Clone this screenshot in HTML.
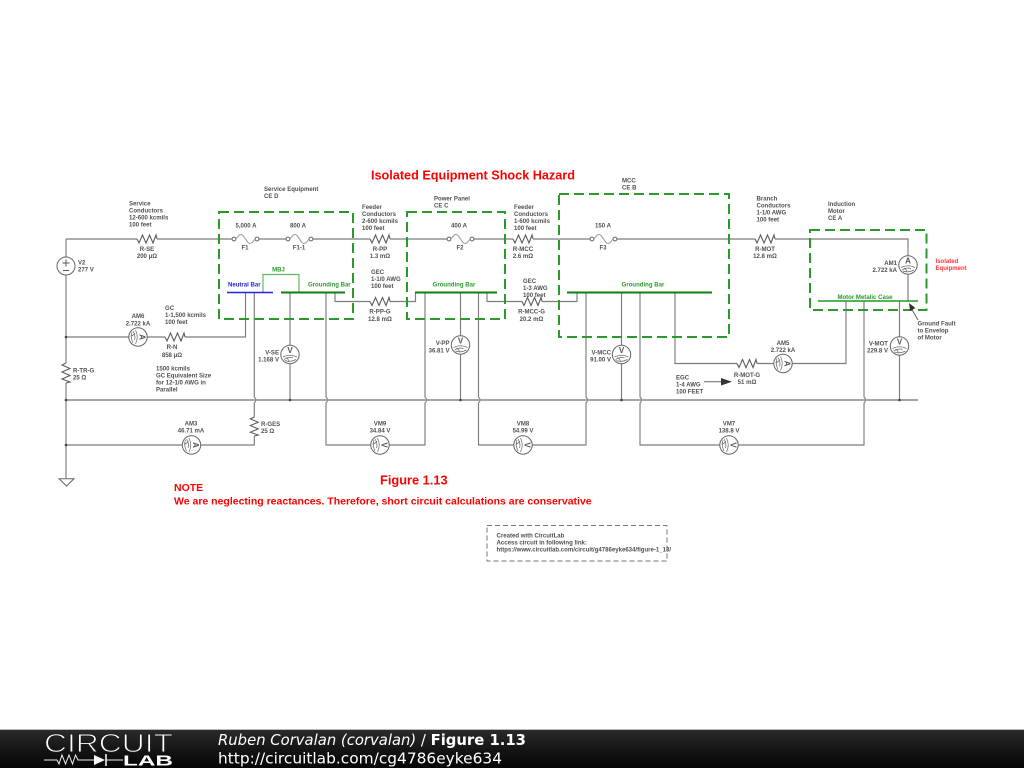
<!DOCTYPE html>
<html><head><meta charset="utf-8"><title>Figure 1.13</title>
<style>
html,body{margin:0;padding:0;background:#fff;width:1024px;height:768px;overflow:hidden}
svg{position:absolute;left:0;top:0;display:block}
text{font-family:"Liberation Sans",sans-serif}
.diagram{filter:blur(.3px)}
.l{font-size:6.05px;font-weight:bold;fill:#505050}
.c{text-anchor:middle}
.r{text-anchor:end}
.g{fill:#2a9a2a}
.w{fill:none;stroke:#7c7c7c;stroke-width:1.15}
.box{fill:none;stroke:#2a9a2a;stroke-width:2;stroke-dasharray:10 5}
.m{font-size:8px;font-weight:bold;fill:#555;text-anchor:middle}
.red{fill:#f00;font-weight:bold}
</style></head><body>
<svg width="1024" height="768" viewBox="0 0 1024 768" xmlns="http://www.w3.org/2000/svg">
<defs>
<linearGradient id="bg" x1="0" y1="0" x2="0" y2="1"><stop offset="0" stop-color="#2c2c2c"/><stop offset="0.5" stop-color="#161616"/><stop offset="1" stop-color="#050505"/></linearGradient>
<path id="res" d="M0 0L2 4L5.5 -4L9 4L12.5 -4L16 4L19 -4L20 0" fill="none" stroke="#5c5c5c" stroke-width="1.1"/>
<g id="fuse" fill="none" stroke="#888" stroke-width="1"><circle cx="0" cy="0" r="1.9" fill="#fff" stroke="#666"/><circle cx="23" cy="0" r="1.9" fill="#fff" stroke="#666"/><path d="M2 0C6 -6 8 -6 11.5 0S17 6 21 0" stroke="#999"/></g>
<g id="dial" fill="none" stroke="#666" stroke-width=".7"><circle r="9.2" fill="#fff" stroke="#666" stroke-width="1"/><path d="M-7 2.5Q0 -1 7 2.5M-6 5Q-1 2 3 3.5M-4 3Q-1 5 -1 7.5M-5 6Q0 8 6 5"/></g>
</defs>

<g class="diagram">
<!-- wires -->
<g class="w">
<path d="M66 239H137M157 239H234M257 239H288M311 239H370M390 239H449M472 239H513M533 239H592M615 239H755M775 239H908V256M908 274V301"/>
<path d="M66 239V257M66 275V363M66 383V478"/>
<path d="M66 337H129M147 337H165M185 337H245.5V292.5"/>
<path d="M254.3 292.5V397Q257.5 400 254.3 403V417M254.3 436V445H201M182 445H66"/>
<path d="M290 292.5V345M290 364V400"/>
<path d="M326 292.5V397Q329.2 400 326 403V445H371M389 445H425V403Q428.2 400 425 397V292.5"/>
<path d="M460.5 292.5V336M460.5 354V400"/>
<path d="M478.5 292.5V397Q481.7 400 478.5 403V445H514M532 445H586V403Q589.2 400 586 397V292.5"/>
<path d="M621.5 292.5V345M621.5 364V400"/>
<path d="M640 292.5V397Q643.2 400 640 403V445H720M738 445H864V403Q867.2 400 864 397V301"/>
<path d="M899.5 301V337M899.5 355V400"/>
<path d="M335 292.5V301.5H370M390 301.5H415.5V292.5"/>
<path d="M487 292.5V301.5H522M542 301.5H577V292.5"/>
<path d="M675 292.5V363.5H737M757 363.5H774M792 363.5H846V301"/>
<path d="M263 292.5V274.5H299V292.5" stroke="#5cb85c"/>
</g>
<path d="M66 400H918" stroke="#999" stroke-width="1.7" fill="none"/>
<g fill="#444"><circle cx="66" cy="400" r="1.3"/><circle cx="66" cy="337" r="1.3"/><circle cx="66" cy="445" r="1.3"/><circle cx="290" cy="400" r="1.3"/><circle cx="460.5" cy="400" r="1.3"/><circle cx="621.5" cy="400" r="1.3"/><circle cx="899.5" cy="400" r="1.3"/></g>

<!-- ground -->
<path d="M59 478.7H74L66.5 486Z" fill="#fff" stroke="#666"/>

<!-- bars -->
<path d="M227 292.5H273" stroke="#2222ee" stroke-width="1.6"/>
<path d="M281 292.5H345M415 292.5H497M567 292.5H712" stroke="#0f7f0f" stroke-width="2"/>
<path d="M818 301H918" stroke="#1f9a1f" stroke-width="1.6"/>

<!-- dashed boxes -->
<rect class="box" x="219" y="212" width="134" height="107"/>
<rect class="box" x="407" y="212" width="98" height="107"/>
<rect class="box" x="559" y="194" width="170" height="143"/>
<rect class="box" x="810" y="230" width="116.500" height="80"/>
<rect x="487" y="525.500" width="180" height="35.500" fill="none" stroke="#777" stroke-dasharray="5 3"/>

<!-- resistors -->
<use href="#res" transform="translate(137 239)"/>
<use href="#res" transform="translate(370 239)"/>
<use href="#res" transform="translate(513 239)"/>
<use href="#res" transform="translate(755 239)"/>
<use href="#res" transform="translate(370 301.5)"/>
<use href="#res" transform="translate(522 301.5)"/>
<use href="#res" transform="translate(737 363.5)"/>
<use href="#res" transform="translate(165 337)"/>
<use href="#res" transform="translate(66 363) rotate(90)"/>
<use href="#res" transform="translate(254.3 417) rotate(90) scale(.95 1)"/>

<!-- fuses -->
<use href="#fuse" transform="translate(234 239)"/>
<use href="#fuse" transform="translate(288 239)"/>
<use href="#fuse" transform="translate(449 239)"/>
<use href="#fuse" transform="translate(592 239)"/>

<!-- source -->
<circle cx="66" cy="266" r="9" fill="#fff" stroke="#666"/>
<path d="M62.500 263H69.500M66 259.500V266.500M63 270.500H69" stroke="#555" fill="none"/>

<!-- meters -->
<g transform="translate(290 354.500)"><use href="#dial"/><text class="m" y="-1.500">V</text></g>
<g transform="translate(460.500 345)"><use href="#dial"/><text class="m" y="-1.500">V</text></g>
<g transform="translate(621.500 354.500)"><use href="#dial"/><text class="m" y="-1.500">V</text></g>
<g transform="translate(899.500 346)"><use href="#dial"/><text class="m" y="-1.500">V</text></g>
<g transform="translate(908 265)"><use href="#dial"/><text class="m" y="-1.500">A</text></g>
<g transform="translate(138 337) rotate(90)"><use href="#dial"/><text class="m" y="-1.500">A</text></g>
<g transform="translate(783 363.500) rotate(90)"><use href="#dial"/><text class="m" y="-1.500">A</text></g>
<g transform="translate(191.500 445) rotate(90)"><use href="#dial"/><text class="m" y="-1.500">A</text></g>
<g transform="translate(380 445) rotate(90)"><use href="#dial"/><text class="m" y="-1.500">V</text></g>
<g transform="translate(523 445) rotate(90)"><use href="#dial"/><text class="m" y="-1.500">V</text></g>
<g transform="translate(729 445) rotate(90)"><use href="#dial"/><text class="m" y="-1.500">V</text></g>

<!-- annotation arrows -->
<path d="M918 320L911 308" stroke="#666" fill="none"/>
<path d="M909 303L915.500 308L910 311Z" fill="#333"/>
<path d="M704 381.700H722" stroke="#666" fill="none"/>
<path d="M732 381.700L721 378V385.500Z" fill="#333"/>

<!-- labels -->
<g class="l">
<text x="129" y="205.500">Service</text><text x="129" y="212.500">Conductors</text><text x="129" y="219.500">12-600 kcmils</text><text x="129" y="226.500">100 feet</text>
<text class="c" x="147" y="251">R-SE</text><text class="c" x="147" y="258">200 μΩ</text>
<text x="264" y="191">Service Equipment</text><text x="264" y="198">CE D</text>
<text class="c" x="246" y="227.500">5,000 A</text><text class="c" x="298" y="227.500">800 A</text>
<text class="c" x="245" y="249.500">F1</text><text class="c" x="299" y="249.500">F1-1</text>
<text x="78" y="264.500">V2</text><text x="78" y="271.500">277 V</text>
<text class="c" x="138" y="318">AM6</text><text class="c" x="138" y="325.500">2.722 kA</text>
<text x="165" y="310">GC</text><text x="165" y="317">1-1,500 kcmils</text><text x="165" y="324">100 feet</text>
<text class="c" x="172" y="349">R-N</text><text class="c" x="172" y="357">858 μΩ</text>
<text x="156" y="370.500">1500 kcmils</text><text x="156" y="377.500">GC Equivalent Size</text><text x="156" y="384.500">for 12-1/0 AWG in</text><text x="156" y="391.500">Parallel</text>
<text x="73" y="372.500">R-TR-G</text><text x="73" y="379.500">25 Ω</text>
<text class="r" x="279" y="354.500">V-SE</text><text class="r" x="279" y="361.500">1.168 V</text>

<text x="362" y="209">Feeder</text><text x="362" y="216">Conductors</text><text x="362" y="223">2-600 kcmils</text><text x="362" y="230">100 feet</text>
<text class="c" x="380" y="251">R-PP</text><text class="c" x="380" y="258">1.3 mΩ</text>
<text x="371" y="274">GEC</text><text x="371" y="281">1-1/0 AWG</text><text x="371" y="288">100 feet</text>
<text class="c" x="380" y="313.500">R-PP-G</text><text class="c" x="380" y="321">12.8 mΩ</text>
<text x="434" y="200.500">Power Panel</text><text x="434" y="207.500">CE C</text>
<text class="c" x="459" y="227.500">400 A</text><text class="c" x="460" y="249.500">F2</text>
<text class="r" x="449.500" y="345">V-PP</text><text class="r" x="449.500" y="352.500">36.81 V</text>
<text x="514" y="209">Feeder</text><text x="514" y="216">Conductors</text><text x="514" y="223">1-600 kcmils</text><text x="514" y="230">100 feet</text>
<text class="c" x="523" y="251">R-MCC</text><text class="c" x="523" y="258">2.6 mΩ</text>
<text x="523" y="283">GEC</text><text x="523" y="290">1-3 AWG</text><text x="523" y="297">100 feet</text>
<text class="c" x="531.500" y="313.500">R-MCC-G</text><text class="c" x="531.500" y="321">20.2 mΩ</text>
<text x="622" y="182.500">MCC</text><text x="622" y="189.500">CE B</text>
<text class="c" x="603" y="227.500">150 A</text><text class="c" x="603" y="249.500">F3</text>
<text class="r" x="611" y="354.500">V-MCC</text><text class="r" x="611" y="361.500">91.00 V</text>
<text x="756.500" y="200.500">Branch</text><text x="756.500" y="207.500">Conductors</text><text x="756.500" y="214.500">1-1/0 AWG</text><text x="756.500" y="221.500">100 feet</text>
<text class="c" x="765" y="251">R-MOT</text><text class="c" x="765" y="258">12.8 mΩ</text>
<text x="828" y="206">Induction</text><text x="828" y="213">Motor</text><text x="828" y="220">CE A</text>
<text class="r" x="897" y="265">AM1</text><text class="r" x="897" y="272">2.722 kA</text>
<text x="917.500" y="325.500">Ground Fault</text><text x="917.500" y="332.500">to Envelop</text><text x="917.500" y="339.500">of Motor</text>
<text class="c" x="783" y="345">AM5</text><text class="c" x="783" y="352">2.722 kA</text>
<text class="c" x="747" y="377">R-MOT-G</text><text class="c" x="747" y="384">51 mΩ</text>
<text x="676" y="379.500">EGC</text><text x="676" y="386.500">1-4 AWG</text><text x="676" y="393.500">100 FEET</text>
<text class="r" x="888" y="345.500">V-MOT</text><text class="r" x="888" y="352.500">229.8 V</text>
<text class="c" x="191" y="425.500">AM3</text><text class="c" x="191" y="432.500">46.71 mA</text>
<text x="261" y="426">R-GES</text><text x="261" y="433">25 Ω</text>
<text class="c" x="380" y="425.500">VM9</text><text class="c" x="380" y="432.500">34.84 V</text>
<text class="c" x="523" y="425.500">VM8</text><text class="c" x="523" y="432.500">54.99 V</text>
<text class="c" x="729" y="425.500">VM7</text><text class="c" x="729" y="432.500">138.8 V</text>
<text x="496.500" y="537.500">Created with CircuitLab</text><text x="496.500" y="544.500">Access circuit in following link:</text><text x="496.500" y="551.500">https://www.circuitlab.com/circuit/g4786eyke634/figure-1_13/</text>
<text class="c g" x="278.500" y="271.500">MBJ</text>
<text x="228" y="286.500" style="fill:#2222ee">Neutral Bar</text>
<text class="g" x="308" y="286.500">Grounding Bar</text>
<text class="c g" x="454" y="286.500">Grounding Bar</text>
<text class="c g" x="643" y="286.500">Grounding Bar</text>
<text class="c g" x="865" y="299">Motor Metalic Case</text>
<text x="935.500" y="263" style="fill:#f33">Isolated</text><text x="935.500" y="270" style="fill:#f33">Equipment</text>
</g>

<text class="red" x="371" y="179.500" font-size="12.670">Isolated Equipment Shock Hazard</text>
<text class="red" x="380" y="484.500" font-size="12.800">Figure 1.13</text>
<text class="red" x="174" y="491" font-size="10.500">NOTE</text>
<text class="red" x="174" y="504.500" font-size="10.500">We are neglecting reactances. Therefore, short circuit calculations are conservative</text>
</g>

<!-- footer -->
<rect x="0" y="729" width="1024" height="39" fill="url(#bg)"/>
<rect x="0" y="729" width="1024" height="1" fill="#bbb"/>
<text x="44" y="752" font-size="26" textLength="129" lengthAdjust="spacingAndGlyphs" style="fill:#fff;stroke:#1c1c1c;stroke-width:1">CIRCUIT</text>
<path d="M44 760H57L59 764L62 755L65.500 764L69 755L72.500 764L75.500 755L78 760H94M118 760H123" fill="none" stroke="#eee" stroke-width="1"/>
<path d="M94 755V765L105 760Z" fill="#fff"/><path d="M106 754V766" stroke="#fff" stroke-width="1.500"/><path d="M106 760H118" stroke="#eee"/>
<text x="123" y="765.500" font-size="15" font-weight="bold" fill="#fff" textLength="50" lengthAdjust="spacingAndGlyphs">LAB</text>
<text x="218" y="745" style="font-family:'DejaVu Sans',sans-serif" font-size="15" fill="#fff" textLength="308" lengthAdjust="spacingAndGlyphs"><tspan font-style="italic">Ruben Corvalan (corvalan)</tspan> / <tspan font-weight="bold">Figure 1.13</tspan></text>
<text x="218" y="763.500" style="font-family:'DejaVu Sans',sans-serif" font-size="15" fill="#fff" textLength="284" lengthAdjust="spacingAndGlyphs">http://circuitlab.com/cg4786eyke634</text>
</svg>
</body></html>
